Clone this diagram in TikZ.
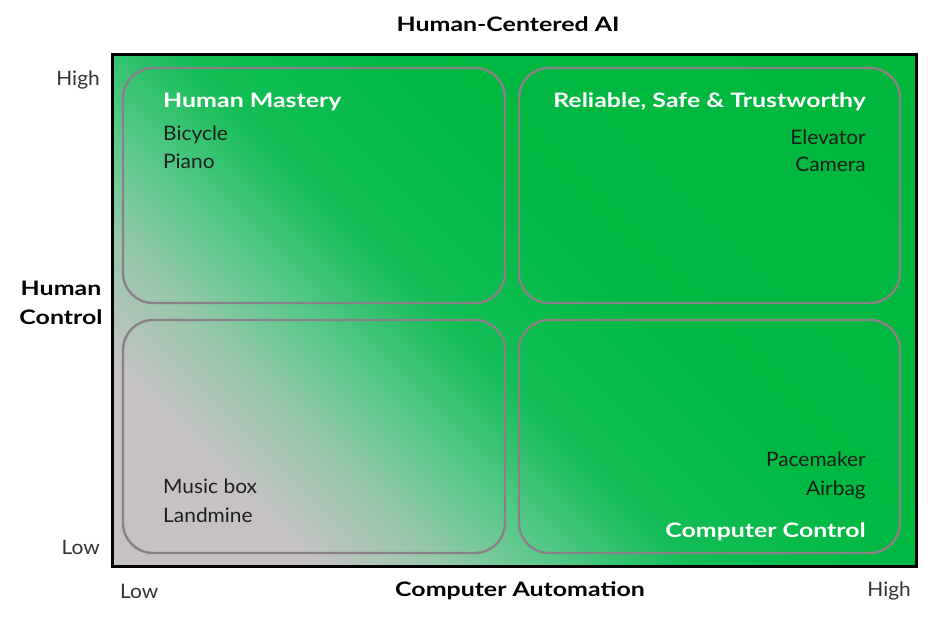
\documentclass[tikz,border=0pt]{standalone}
\usepackage{fontspec}
\setmainfont{Lato}[FakeStretch=1.05]
\newfontfamily\wideb{Lato}[FakeStretch=1.25]
\definecolor{gbox}{HTML}{8A8088}
\definecolor{txt}{HTML}{1E1E1E}
\definecolor{greyc}{HTML}{C6C2C4}
\definecolor{mint}{HTML}{96C8AA}
\definecolor{gA}{HTML}{55C887}
\definecolor{gB}{HTML}{12BE55}
\definecolor{gC}{HTML}{00B942}
\definecolor{gD}{HTML}{00B43A}
\pgfdeclarehorizontalshading{hcai}{100bp}{color(0bp)=(greyc); color(25.3bp)=(greyc); color(32.3bp)=(mint); color(38.7bp)=(gA); color(46bp)=(gB); color(57bp)=(gC); color(100bp)=(gD)}
\begin{document}
\begin{tikzpicture}[x=1bp,y=1bp,
  quad/.style={draw=gbox, line width=2.4bp, rounded corners=30bp, rectangle, inner sep=0pt},
  lbl/.style={inner sep=0pt, text=txt, font=\fontsize{20}{22}\selectfont},
  ttl/.style={inner sep=0pt, text=white, font=\wideb\bfseries\fontsize{20}{22}\selectfont},
  axl/.style={inner sep=0pt, text=black, font=\wideb\bfseries\fontsize{20}{29}\selectfont}]
\useasboundingbox (0,0) rectangle (940,619);
\shade[shading=hcai, shading angle=45] (113,52) rectangle (916,564);
\node[draw=black, line width=3bp, rectangle, inner sep=0pt, minimum width=803bp, minimum height=512bp] (frame) at (514.5,308) {};
\node[quad, minimum width=382bp, minimum height=235bp] (tl) at (314,433.5) {};
\node[quad, minimum width=381bp, minimum height=235bp] (tr) at (709.5,433.5) {};
\node[quad, minimum width=382bp, minimum height=233bp] (bl) at (314,182.5) {};
\node[quad, minimum width=381bp, minimum height=233bp] (br) at (709.5,182.5) {};
% axis labels
\node[axl] (title) at (508,595) {Human-Centered AI};
\node[lbl, text=black!80, anchor=east] (yhigh) at (100,539) {High};
\node[lbl, text=black!80, anchor=east] (ylow) at (100,72) {Low};
\node[axl, align=center] (ytitle) at (61,316) {Human\\Control};
\node[lbl, text=black!80, anchor=west] (xlow) at (120,28) {Low};
\node[axl] (xtitle) at (520,28) {Computer Automation};
\node[lbl, text=black!80, anchor=east] (xhigh) at (911,28) {High};
% quadrant texts
\node[ttl, anchor=mid west] (hm) at (163,514) {Human Mastery};
\node[lbl, anchor=mid west] (bic) at (163,481) {Bicycle};
\node[lbl, anchor=mid west] (pia) at (163,453) {Piano};
\node[ttl, anchor=mid east] (rst) at (866,514) {Reliable, Safe \& Trustworthy};
\node[lbl, anchor=mid east] (ele) at (866,477) {Elevator};
\node[lbl, anchor=mid east] (cam) at (866,450) {Camera};
\node[lbl, anchor=mid west] (mus) at (163,128) {Music box};
\node[lbl, anchor=mid west] (lan) at (163,99) {Landmine};
\node[lbl, anchor=mid east] (pac) at (866,155) {Pacemaker};
\node[lbl, anchor=mid east] (air) at (866,126) {Airbag};
\node[ttl, anchor=mid east] (cc) at (866,84) {Computer Control};
\end{tikzpicture}
\end{document}
